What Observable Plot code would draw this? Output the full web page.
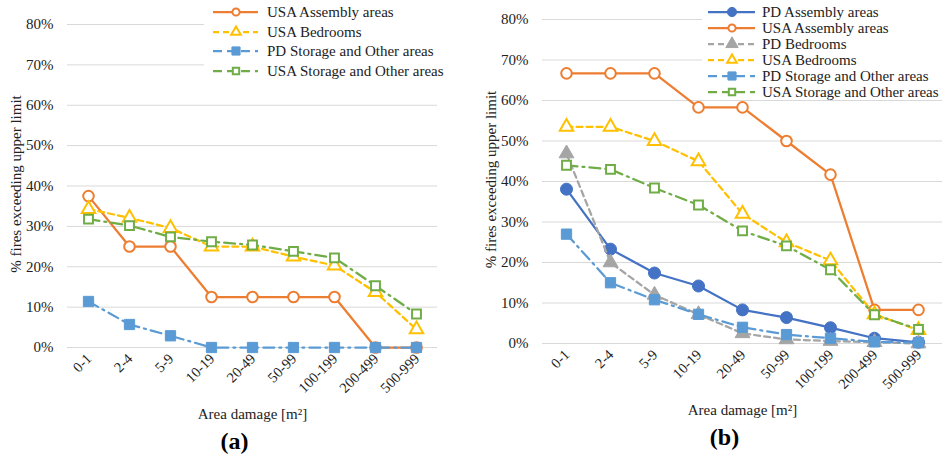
<!DOCTYPE html>
<html>
<head>
<meta charset="utf-8">
<script src="https://cdn.jsdelivr.net/npm/d3@7"></script>
<script src="https://cdn.jsdelivr.net/npm/@observablehq/plot@0.6"></script>
<style>
  html, body { margin: 0; padding: 0; background: #fff; }
  #wrap { position: relative; width: 947px; height: 463px; overflow: hidden; background: #fff; }
  #wrap > svg { position: absolute; top: 0; }
  #wrap svg, #wrap svg text { font-family: "Liberation Serif", "Times New Roman", "DejaVu Serif", serif !important; }
</style>
</head>
<body>
<div id="wrap"></div>
<script>
// ---------- data ----------
const categories = ["0-1","2-4","5-9","10-19","20-49","50-99","100-199","200-499","500-999"];
const yTicks = [0, 0.1, 0.2, 0.3, 0.4, 0.5, 0.6, 0.7, 0.8];

// panel (a)
const aUsaAssembly = [0.375, 0.25, 0.25, 0.125, 0.125, 0.125, 0.125, 0, 0];
const aUsaBedrooms = [0.343, 0.321, 0.296, 0.25, 0.25, 0.225, 0.203, 0.137, 0.045];
const aPdStorage   = [0.114, 0.057, 0.029, 0, 0, 0, 0, 0, 0];
const aUsaStorage  = [0.318, 0.302, 0.274, 0.262, 0.254, 0.238, 0.222, 0.153, 0.083];

// panel (b)
const bPdAssembly  = [0.381, 0.233, 0.174, 0.142, 0.083, 0.064, 0.039, 0.013, 0.003];
const bUsaAssembly = [0.667, 0.667, 0.667, 0.583, 0.583, 0.5, 0.417, 0.083, 0.083];
const bPdBedrooms  = [0.469, 0.20, 0.12, 0.072, 0.025, 0.01, 0.006, 0.003, 0.0];
const bUsaBedrooms = [0.535, 0.535, 0.50, 0.45, 0.32, 0.25, 0.205, 0.072, 0.033];
const bPdStorage   = [0.27, 0.15, 0.108, 0.072, 0.04, 0.022, 0.013, 0.004, 0.002];
const bUsaStorage  = [0.44, 0.43, 0.384, 0.342, 0.278, 0.241, 0.182, 0.071, 0.035];

// ---------- styles ----------
const ORANGE = "#ED7D31", YELLOW = "#FFC000", GREY = "#A5A5A5",
      BLUE = "#4472C4", LBLUE = "#5B9BD5", GREEN = "#70AD47";
const DASH = "6,4", DASHDOT = "11,5,2,5";
const styleOf = {
  "PD Assembly areas":            {color: BLUE,   dash: null,    symbol: "circle",   hollow: false, r: 6},
  "USA Assembly areas":           {color: ORANGE, dash: null,    symbol: "circle",   hollow: true,  r: 5.3},
  "PD Bedrooms":                  {color: GREY,   dash: DASH,    symbol: "triangle", hollow: false, r: 5.5},
  "USA Bedrooms":                 {color: YELLOW, dash: DASH,    symbol: "triangle", hollow: true,  r: 5},
  "PD Storage and Other areas":   {color: LBLUE,  dash: DASHDOT, symbol: "square",   hollow: false, r: 5.8},
  "USA Storage and Other areas":  {color: GREEN,  dash: DASHDOT, symbol: "square",   hollow: true,  r: 5}
};

const seriesA = [
  ["USA Assembly areas", aUsaAssembly],
  ["USA Bedrooms", aUsaBedrooms],
  ["PD Storage and Other areas", aPdStorage],
  ["USA Storage and Other areas", aUsaStorage]
];
const seriesB = [
  ["PD Assembly areas", bPdAssembly],
  ["USA Assembly areas", bUsaAssembly],
  ["PD Bedrooms", bPdBedrooms],
  ["USA Bedrooms", bUsaBedrooms],
  ["PD Storage and Other areas", bPdStorage],
  ["USA Storage and Other areas", bUsaStorage]
];

const FONT = "'Liberation Serif', 'Times New Roman', 'DejaVu Serif', serif";

function panel({series, width, marginTop, marginBottom, marginRight, tag}) {
  const marks = [
    Plot.ruleY(yTicks, {y: d => d, stroke: "#D9D9D9", strokeWidth: 1}),
    Plot.text(yTicks, {y: d => d, frameAnchor: "left", text: d => d3.format(".0%")(d),
      textAnchor: "end", dx: -14, fontSize: 15, fill: "#222"}),
    Plot.text(categories, {x: d => d, frameAnchor: "bottom", text: d => d, rotate: -45,
      textAnchor: "end", dx: 4, dy: 12, fontSize: 14.5, fill: "#222"}),
    Plot.text(["% fires exceeding upper limit"], {frameAnchor: "left", text: d => d, rotate: -90,
      textAnchor: "middle", dx: -51, dy: -2, fontSize: 15, fill: "#222"}),
    Plot.text(["Area damage [m\u00B2]"], {frameAnchor: "bottom", text: d => d,
      textAnchor: "middle", dy: 71, fontSize: 15, fill: "#222"}),
    Plot.text([tag], {frameAnchor: "bottom", text: d => d, textAnchor: "middle", dx: -18, dy: 101,
      fontSize: 24, fontWeight: "bold", fill: "#000"})
  ];
  for (const [name, vals] of series) {
    const s = styleOf[name];
    const data = categories.map((c, i) => ({c, v: vals[i]}));
    marks.push(Plot.line(data, {x: "c", y: "v", stroke: s.color, strokeWidth: 2.25,
      strokeDasharray: s.dash || undefined}));
    marks.push(Plot.dot(data, {x: "c", y: "v", symbol: s.symbol, r: s.r,
      fill: s.hollow ? "white" : s.color, stroke: s.color, strokeWidth: s.hollow ? 2 : 1}));
  }
  return Plot.plot({
    width, height: 463, marginLeft: 67, marginRight, marginTop, marginBottom,
    style: {fontFamily: FONT, fontSize: "15px", background: "transparent", overflow: "visible"},
    x: {type: "point", domain: categories, padding: 0.5, axis: null},
    y: {domain: [0, 0.8], axis: null},
    marks
  });
}

const wrap = document.getElementById("wrap");
const left = panel({series: seriesA, width: 470, marginTop: 24, marginBottom: 116, marginRight: 33, tag: "(a)"});
left.style.left = "0px";
wrap.appendChild(left);
const right = panel({series: seriesB, width: 472, marginTop: 19, marginBottom: 120, marginRight: 5, tag: "(b)"});
right.style.left = "475px";
wrap.appendChild(right);

// ---------- legends ----------
const leg = d3.select(wrap).append("svg")
  .attr("width", 947).attr("height", 110)
  .style("left", "0px").style("top", "0px")
  .style("font-family", FONT);

function legend(box, items, x0, x1, xm, xt, ys) {
  leg.append("rect").attr("x", box[0]).attr("y", box[1]).attr("width", box[2]).attr("height", box[3]).attr("fill", "white");
  items.forEach((name, i) => {
    const s = styleOf[name], y = ys[i];
    leg.append("line").attr("x1", x0).attr("x2", x1).attr("y1", y).attr("y2", y)
      .attr("stroke", s.color).attr("stroke-width", 2.25)
      .attr("stroke-dasharray", s.dash ? (s.dash === DASHDOT ? "9,5,0,0" : s.dash) : null);
    const sym = s.symbol === "circle" ? d3.symbolCircle : s.symbol === "triangle" ? d3.symbolTriangle : d3.symbolSquare;
    const rr = s.hollow ? 3.6 : 4.6;
    leg.append("path").attr("d", d3.symbol(sym, Math.PI * rr * rr)())
      .attr("transform", `translate(${xm},${y})`)
      .attr("fill", s.hollow ? "white" : s.color).attr("stroke", s.color).attr("stroke-width", s.hollow ? 2 : 1);
    leg.append("text").attr("x", xt).attr("y", y).attr("dy", "0.35em")
      .attr("font-size", 15).attr("fill", "#222").text(name);
  });
}
legend([204, 0, 244, 82], seriesA.map(d => d[0]), 213, 258, 236, 267, [12, 32, 51, 71]);
legend([702, 0, 245, 100], seriesB.map(d => d[0]), 708, 755, 732, 762, [12, 28, 44, 60, 76, 92]);
</script>
</body>
</html>
